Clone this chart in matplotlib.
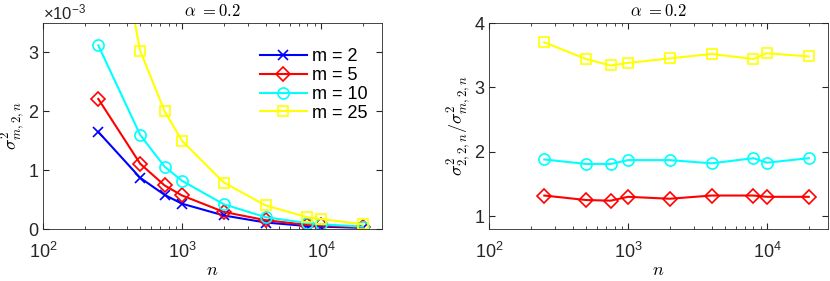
import numpy as np
import matplotlib
matplotlib.use("Agg")
import matplotlib.pyplot as plt

plt.rcParams['font.family'] = ['Liberation Sans', 'DejaVu Sans']
plt.rcParams['mathtext.fontset'] = 'cm'

# sample sizes
n = [250, 500, 750, 1000, 2000, 4000, 8000, 10000, 20000]

# left panel: variance (x 1e-3)
var_m2 = [1.65, 0.87, 0.58, 0.43, 0.23, 0.11, 0.05, 0.04, 0.02]
var_m5 = [2.21, 1.11, 0.74, 0.57, 0.29, 0.15, 0.07, 0.06, 0.03]
var_m10 = [3.12, 1.60, 1.06, 0.82, 0.42, 0.20, 0.10, 0.08, 0.04]
var_m25 = [6.80, 3.03, 2.00, 1.50, 0.79, 0.40, 0.20, 0.17, 0.08]

# right panel: variance ratio
ratio_m5 = [1.32, 1.25, 1.24, 1.30, 1.27, 1.32, 1.32, 1.30, 1.30]
ratio_m10 = [1.88, 1.81, 1.81, 1.87, 1.87, 1.82, 1.90, 1.83, 1.90]
ratio_m25 = [3.70, 3.44, 3.34, 3.38, 3.45, 3.52, 3.44, 3.53, 3.48]

labels = ['m = 2', 'm = 5', 'm = 10', 'm = 25']
colors = ['#0000ff', '#ff0000', '#00ffff', '#ffff00']
markers = ['x', 'D', 'o', 's']
msizes = [7, 7, 8, 7]

fig = plt.figure(figsize=(8.3, 2.81), dpi=100)
W, H = 830, 281
ax1 = fig.add_axes([43 / W, (H - 229) / H, 339 / W, 206 / H])
ax2 = fig.add_axes([489 / W, (H - 229) / H, 339 / W, 206 / H])

left_series = [var_m2, var_m5, var_m10, var_m25]
for vals, lab, c, mk, ms in zip(left_series, labels, colors, markers, msizes):
    ax1.plot(n, np.array(vals) * 1e-3, color=c, marker=mk, ms=ms, mfc='none',
             mew=1.2, lw=1.5, label=lab)

right_series = [ratio_m5, ratio_m10, ratio_m25]
for vals, c, mk, ms in zip(right_series, colors[1:], markers[1:], msizes[1:]):
    ax2.plot(n, vals, color=c, marker=mk, ms=ms, mfc='none', mew=1.2, lw=1.5)

ax1.set_ylim(0, 3.5e-3)
ax1.set_yticks([0, 1e-3, 2e-3, 3e-3])
ax1.set_yticklabels(['0', '1', '2', '3'])
ax1.text(0.0, 1.005, r'$\mathregular{\times 10^{-3}}$', transform=ax1.transAxes,
         fontsize=12, ha='left', va='bottom', color='#262626')
ax1.set_ylabel(r'$\sigma^2_{m,2,n}$', fontsize=13, labelpad=1)

ax2.set_ylim(0.8, 4)
ax2.set_yticks([1, 2, 3, 4])
ax2.set_ylabel(r'$\sigma^2_{2,2,n}/\sigma^2_{m,2,n}$', fontsize=13, labelpad=1)

for ax in (ax1, ax2):
    ax.set_xscale('log')
    ax.set_xlim(100, 2.75e4)
    ax.set_xticks([1e2, 1e3, 1e4])
    ax.set_xticklabels([r'$\mathregular{10^{2}}$', r'$\mathregular{10^{3}}$',
                        r'$\mathregular{10^{4}}$'])
    ax.set_xlabel(r'$n$', fontsize=13, labelpad=0)
    ax.set_title(r'$\alpha\ {=}0.2$', fontsize=12, pad=5)
    ax.tick_params(which='both', direction='in', top=True, right=True,
                   labelsize=13, colors='#262626')
    ax.tick_params(axis='x', which='major', pad=9)
    ax.tick_params(which='major', length=4)
    ax.tick_params(which='minor', length=2)
    for sp in ax.spines.values():
        sp.set_color('#262626')
        sp.set_linewidth(0.6)

leg = ax1.legend(loc='upper right', bbox_to_anchor=(0.99, 0.93), frameon=False,
                 fontsize=13, handlelength=2.6, handletextpad=0.3,
                 labelspacing=0.1, borderaxespad=0.2)

fig.savefig('out.png', dpi=100)
